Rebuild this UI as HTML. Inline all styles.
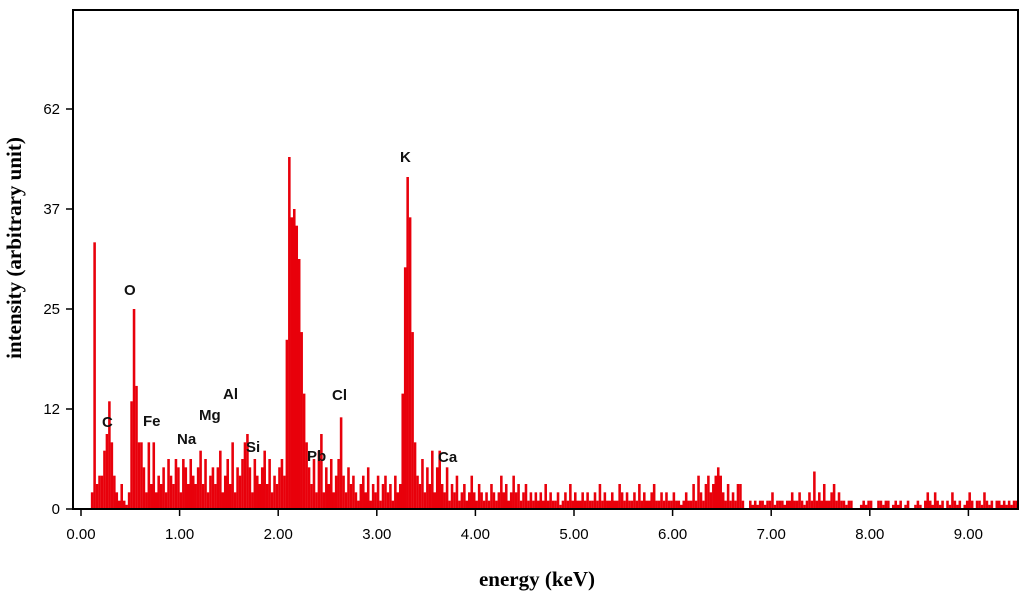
<!DOCTYPE html>
<html><head><meta charset="utf-8"><style>
body{margin:0;background:#fff;width:1024px;height:601px;overflow:hidden}
svg{display:block}
</style></head><body>
<svg id="chart" width="1024" height="601" viewBox="0 0 1024 601" xmlns="http://www.w3.org/2000/svg">
<g id="bars"></g>
<rect x="73" y="10" width="945" height="499" fill="none" stroke="#000" stroke-width="2"/>
<g id="axes"></g>
<g font-family="Liberation Sans, sans-serif" font-weight="bold" font-size="15" fill="#111">
<text x="102" y="427">C</text>
<text x="124" y="295">O</text>
<text x="143" y="426">Fe</text>
<text x="177" y="444">Na</text>
<text x="199" y="420">Mg</text>
<text x="223" y="399">Al</text>
<text x="246" y="452">Si</text>
<text x="307" y="461">Pb</text>
<text x="332" y="400">Cl</text>
<text x="400" y="162">K</text>
<text x="438" y="462">Ca</text>
</g>
<text x="537" y="586" text-anchor="middle" font-family="Liberation Serif, serif" font-weight="bold" font-size="21">energy (keV)</text>
<text transform="translate(21,248) rotate(-90)" text-anchor="middle" font-family="Liberation Serif, serif" font-weight="bold" font-size="21">intensity (arbitrary unit)</text>
</svg>
<script>
const startKeV = 0.1;
const binKeV = 0.025;
const counts = [
2,33,3,4,4,7,9,13,8,4,2,1,3,1,0.5,2,13,25,15,8,
8,5,2,8,3,8,2,4,3,5,2,6,4,3,6,5,2,6,5,3,
6,4,3,5,7,3,6,2,4,5,3,5,7,2,4,6,3,8,2,5,
4,6,8,9,5,2,6,4,3,5,7,3,6,2,4,3,5,6,4,21,
50,36,37,35,31,22,14,8,5,3,6,2,7,9,2,5,3,6,2,4,
6,11,4,2,5,3,4,2,1,3,4,2,5,1,3,2,4,1,3,4,
2,3,1,4,2,3,14,30,45,36,22,8,4,3,6,2,5,3,7,2,
5,7,3,2,5,1,3,2,4,1,2,3,1,2,4,2,1,3,2,1,
2,1,3,2,1,2,4,2,3,1,2,4,2,3,1,2,3,1,2,1,
2,1,2,1,3,1,2,1,1,2,0.5,1,2,1,3,1,2,1,1,2,
1,2,1,1,2,1,3,1,2,1,1,2,1,1,3,2,1,2,1,1,
2,1,3,1,2,1,1,2,3,1,1,2,1,2,1,1,2,1,1,0.5,
1,2,1,1,3,1,4,2,1,3,4,2,3,4,5,4,2,1,3,1,
2,1,3,3,1,0,0,1,0.5,1,0.5,1,1,0.5,1,1,2,0.5,1,1,
1,0.5,1,1,2,1,1,2,1,0.5,1,2,1,4.5,1,2,1,3,1,1,
2,3,1,2,1,1,0.5,1,1,0,0,0,0.5,1,0.5,1,1,0,0,1,
1,0.5,1,1,0,0.5,1,0.5,1,0,0.5,1,0,0,0.5,1,0.5,0,1,2,
1,0.5,2,1,0.5,1,0,1,0.5,2,1,0.5,1,0,0.5,1,2,1,0,1,
1,0.5,2,1,0.5,1,0,1,1,0.5,1,0.5,1,0.5,1,1
];
const yTickValues = [0,12,25,37,62];
const yTickLabels = ["0","12","25","37","62"];
const xTickValues = [0,1,2,3,4,5,6,7,8,9];
const xTickLabels = ["0.00","1.00","2.00","3.00","4.00","5.00","6.00","7.00","8.00","9.00"];

const NS="http://www.w3.org/2000/svg";
const x0=81, pxPerKeV=98.6, y0=509, yStep=100;
function xScale(k){return x0+k*pxPerKeV;}
function yScale(v){
  for(let i=1;i<yTickValues.length;i++){
    if(v<=yTickValues[i]||i===yTickValues.length-1){
      const a=yTickValues[i-1],b=yTickValues[i];
      return y0-((i-1)+(v-a)/(b-a))*yStep;
    }
  }
}
const barsG=document.getElementById('bars');
counts.forEach((c,i)=>{
  if(c<=0) return;
  const k=startKeV+i*binKeV;
  const xl=xScale(k), w=binKeV*pxPerKeV, yt=yScale(c);
  const r=document.createElementNS(NS,'rect');
  
  
  r.setAttribute('x',xl.toFixed(2));
  r.setAttribute('y',yt.toFixed(2));
  r.setAttribute('width',(w+0.1).toFixed(2));
  r.setAttribute('height',(y0-yt).toFixed(2));
  r.setAttribute('fill','#e8000b');
  barsG.appendChild(r);
});
const ax=document.getElementById('axes');
yTickValues.forEach((v,i)=>{
  const y=yScale(v);
  const l=document.createElementNS(NS,'line');
  
  
  l.setAttribute('x1',66);l.setAttribute('x2',73);l.setAttribute('y1',y);l.setAttribute('y2',y);
  l.setAttribute('stroke','#000');l.setAttribute('stroke-width','1.5');
  ax.appendChild(l);
  const t=document.createElementNS(NS,'text');
  
  
  t.setAttribute('x',60);t.setAttribute('y',y+5);
  t.setAttribute('text-anchor','end');
  t.setAttribute('font-family','Liberation Sans, sans-serif');t.setAttribute('font-size','15');
  t.textContent=yTickLabels[i];
  ax.appendChild(t);
});
xTickValues.forEach((v,i)=>{
  const x=xScale(v);
  const l=document.createElementNS(NS,'line');
  
  
  l.setAttribute('x1',x);l.setAttribute('x2',x);l.setAttribute('y1',509);l.setAttribute('y2',516);
  l.setAttribute('stroke','#000');l.setAttribute('stroke-width','1.5');
  ax.appendChild(l);
  const t=document.createElementNS(NS,'text');
  
  
  t.setAttribute('x',x);t.setAttribute('y',539);
  t.setAttribute('text-anchor','middle');
  t.setAttribute('font-family','Liberation Sans, sans-serif');t.setAttribute('font-size','15');
  t.textContent=xTickLabels[i];
  ax.appendChild(t);
});
</script>
</body></html>
